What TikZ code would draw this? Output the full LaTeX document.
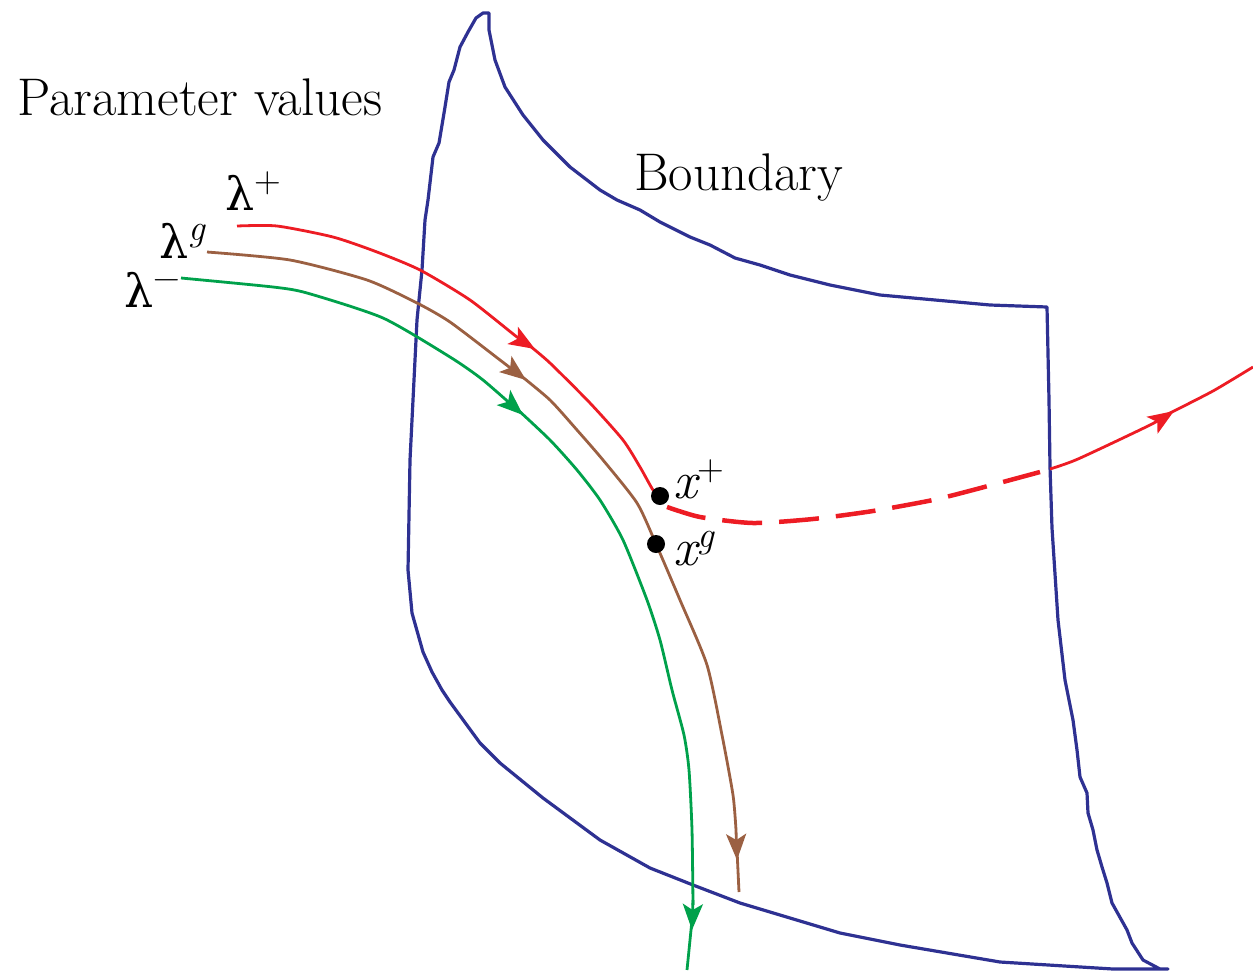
\documentclass[tikz,border=0pt]{standalone}
\usepackage{fontspec}
\newfontfamily\grk{DejaVu Serif}
\usetikzlibrary{arrows.meta}
\definecolor{bnd}{RGB}{46,49,146}
\definecolor{rd}{RGB}{237,28,36}
\definecolor{br}{RGB}{155,96,66}
\definecolor{gr}{RGB}{0,161,75}
\newcommand\mysup[1]{\smash{\raisebox{18pt}{\fontsize{37}{37}\selectfont #1}}}
\newcommand\lam{{\grk\fontsize{46}{50}\selectfont λ}}
\begin{document}
\begin{tikzpicture}[x=1pt,y=-1pt,
 bline/.style={draw=bnd,line width=3.2pt,line join=round},
 traj/.style={line width=2.8pt,line join=round},
 tipa/.style={-{Stealth[length=26pt,width=20pt,inset=6pt]}},
 lbl/.style={anchor=base west,inner sep=0pt,font=\rmfamily\fontsize{53}{60}\selectfont},
 dot/.style={circle,fill=black,inner sep=0pt,minimum size=18pt}]
\useasboundingbox (0,0) rectangle (1253,970);

% boundary
\draw[bline] (483,13) -- (476,18) -- (468,32) -- (460,47) -- (454,70) -- (449,82) -- (445,107) -- (439,143) -- (433,157) -- (428,200) -- (425,220) -- (422,270) -- (417,320) -- (413,400) -- (410,460) -- (408,570) -- (412,613) -- (423,652) -- (432,672) -- (442,690) -- (450,702) -- (480,743) -- (500,763) -- (543,798) -- (600,840) -- (650,868) -- (693,885) -- (740,903) -- (840,933) -- (900,945) -- (1000,962) -- (1113,969) -- (1168,969) -- (1160,969) -- (1143,960) -- (1132,943) -- (1127,930) -- (1112,903) -- (1107,883) -- (1102,867) -- (1097,850) -- (1093,830) -- (1088,813) -- (1087,793) -- (1080,777) -- (1077,750) -- (1073,720) -- (1065,680) -- (1058,620) -- (1052,528) -- (1050,467) -- (1049,400) -- (1047,307) -- (990,305) -- (880,295) -- (830,285) -- (790,275) -- (760,265) -- (735,258) -- (710,245) -- (690,237) -- (660,222) -- (640,210) -- (617,200) -- (600,190) -- (570,167) -- (543,140) -- (523,115) -- (505,87) -- (495,60) -- (489,30) -- (489,13) -- cycle;

% dots (positions)
\coordinate (xp) at (660,496);
\coordinate (xg) at (656,544);

% red trajectory
\draw[traj,draw=rd,tipa,rd] plot[smooth,tension=0.4] coordinates {(237,226) (277,226) (333,237) (377,252) (420,270) (470,300) (517,337) (535,349)};
\draw[traj,draw=rd] plot[smooth,tension=0.4] coordinates {(530,346) (550,363) (590,403) (623,440) (640,467) (653,490) (660,496)};
\draw[rd,line width=4.5pt,dash pattern=on 40pt off 17pt] plot[smooth,tension=0.4] coordinates {(667,507) (700,517) (753,523) (813,519) (873,511) (933,500) (973,490) (1040,472)};
\draw[traj,draw=rd,tipa,rd] plot[smooth,tension=0.4] coordinates {(1050,469) (1078,459) (1150,425) (1174,411)};
\draw[traj,draw=rd] plot[smooth,tension=0.4] coordinates {(1168,414) (1213,391) (1253,367)};

% brown trajectory
\draw[traj,draw=br,tipa,br] plot[smooth,tension=0.4] coordinates {(207,252) (290,260) (367,280) (417,303) (450,322) (500,360) (526,380)};
\draw[traj,draw=br] plot[smooth,tension=0.4] coordinates {(520,375) (550,400) (577,430) (603,460) (637,503) (656,544) (680,600) (707,665) (722,735) (733,795) (736,830)};
\draw[traj,draw=br,tipa,br] (736,830) -- (737,860);
\draw[traj,draw=br] (737,850) -- (739,892);

% green trajectory
\draw[traj,draw=gr,tipa,gr] plot[smooth,tension=0.4] coordinates {(181,278) (273,287) (307,293) (383,318) (450,357) (483,380) (523,415)};
\draw[traj,draw=gr] plot[smooth,tension=0.4] coordinates {(517,409) (550,440) (577,470) (600,500) (623,540) (647,600) (660,640) (672,690) (684,735) (689,770) (692,830) (693,905)};
\draw[traj,draw=gr,tipa,gr] (693,900) -- (692,930);
\draw[traj,draw=gr] (692,920) -- (687,970);

% dots
\node[dot] (dp) at (xp) {};
\node[dot] (dg) at (xg) {};

% labels
\node[lbl] (pv) at (17,115) {Parameter values};
\node[lbl] (bd) at (634,190) {Boundary};
\node[lbl] (lp) at (225,210) {\lam\mysup{+}};
\node[lbl] (lg) at (159,258) {\lam\mysup{\itshape g}};
\node[lbl] (lm) at (124,307) {\lam\mysup{−}};
\node[lbl] (xpl) at (673,498) {\itshape x\mysup{\upshape +}};
\node[lbl] (xgl) at (673,565) {\itshape x\mysup{g}};
\end{tikzpicture}
\end{document}
